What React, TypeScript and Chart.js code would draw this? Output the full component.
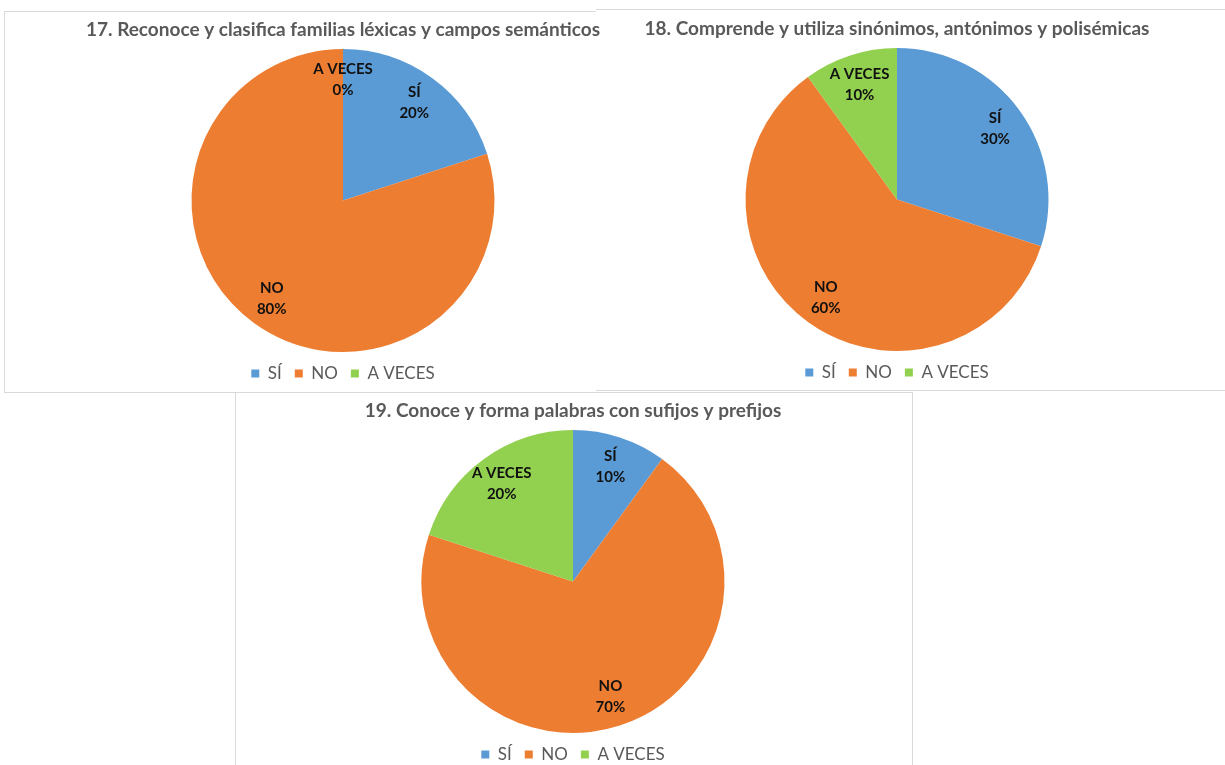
import React, { useEffect, useRef } from "react";
import { Chart, registerables } from "chart.js";

Chart.register(...registerables);

// ---- data ----
const categories = ["SÍ", "NO", "A VECES"];
const colors = ["#5B9BD5", "#ED7D31", "#92D050"];

const title17 = "17. Reconoce y clasifica familias léxicas y campos semánticos";
const values17 = [20, 80, 0];

const title18 = "18. Comprende y utiliza sinónimos, antónimos y polisémicas";
const values18 = [30, 60, 10];

const title19 = "19. Conoce y forma palabras con sufijos y prefijos";
const values19 = [10, 70, 20];

const FONT = "Lato, 'Liberation Sans', sans-serif";

const labelPlugin = {
  id: "sliceLabels",
  afterDatasetsDraw(chart: any) {
    const ctx = chart.ctx;
    const meta = chart.getDatasetMeta(0);
    const data = chart.data.datasets[0].data as number[];
    const total = data.reduce((a: number, b: number) => a + b, 0);
    ctx.save();
    ctx.font = `bold 15px ${FONT}`;
    ctx.fillStyle = "#111111";
    ctx.textAlign = "center";
    ctx.textBaseline = "middle";
    meta.data.forEach((arc: any, i: number) => {
      const p = arc.getProps(["x", "y", "startAngle", "endAngle", "outerRadius"], true);
      const mid = (p.startAngle + p.endAngle) / 2;
      const r = p.outerRadius * 0.8;
      const cx = p.x + Math.cos(mid) * r;
      const cy = p.y + Math.sin(mid) * r;
      const pct = Math.round((data[i] / total) * 100) + "%";
      ctx.fillText(chart.data.labels[i], cx, cy - 10.5);
      ctx.fillText(pct, cx, cy + 10.5);
    });
    ctx.restore();
  },
};

function PieChart({ title, values, width, height }: { title: string; values: number[]; width: number; height: number }) {
  const ref = useRef<HTMLCanvasElement>(null);
  useEffect(() => {
    if (!ref.current) return;
    const chart = new Chart(ref.current, {
      type: "pie",
      data: {
        labels: categories,
        datasets: [{ data: values, backgroundColor: colors, borderWidth: 0 }],
      },
      options: {
        responsive: false,
        animation: false,
        layout: { padding: 0 },
        plugins: {
          title: {
            display: true,
            text: title,
            color: "#595959",
            font: { family: FONT, size: 19, weight: "bold" },
            padding: { top: 7, bottom: 8.2 },
          },
          legend: {
            position: "bottom",
            labels: {
              boxWidth: 8,
              boxHeight: 8,
              padding: 13,
              color: "#595959",
              font: { family: FONT, size: 17 },
            },
          },
          tooltip: { enabled: false },
        },
      },
      plugins: [labelPlugin],
    } as any);
    return () => chart.destroy();
  }, [title, values]);
  return <canvas ref={ref} width={width} height={height} style={{ width, height, display: "block" }} />;
}

const abs = (left: number, top: number, width: number, height: number): React.CSSProperties => ({
  position: "absolute",
  left,
  top,
  width,
  height,
  boxSizing: "border-box",
});

export default function App() {
  const line = "1px solid #d9d9d9";
  return (
    <div style={{ position: "absolute", left: 0, top: 0, width: 1225, height: 765, overflow: "hidden", background: "#fff" }}>
      <div style={{ ...abs(4, 11, 592, 382), borderLeft: line, borderTop: line, borderBottom: line }} />
      <div style={{ ...abs(596, 9, 629, 382), borderTop: line, borderBottom: line }} />
      <div style={{ ...abs(235, 392, 678, 400), borderLeft: line, borderTop: line, borderRight: line }} />
      <div style={abs(73, 11, 540, 381)}>
        <PieChart title={title17} values={values17} width={540} height={381} />
      </div>
      <div style={abs(597, 10, 600, 381)}>
        <PieChart title={title18} values={values18} width={600} height={381} />
      </div>
      <div style={abs(243, 392, 660, 381)}>
        <PieChart title={title19} values={values19} width={660} height={381} />
      </div>
    </div>
  );
}
